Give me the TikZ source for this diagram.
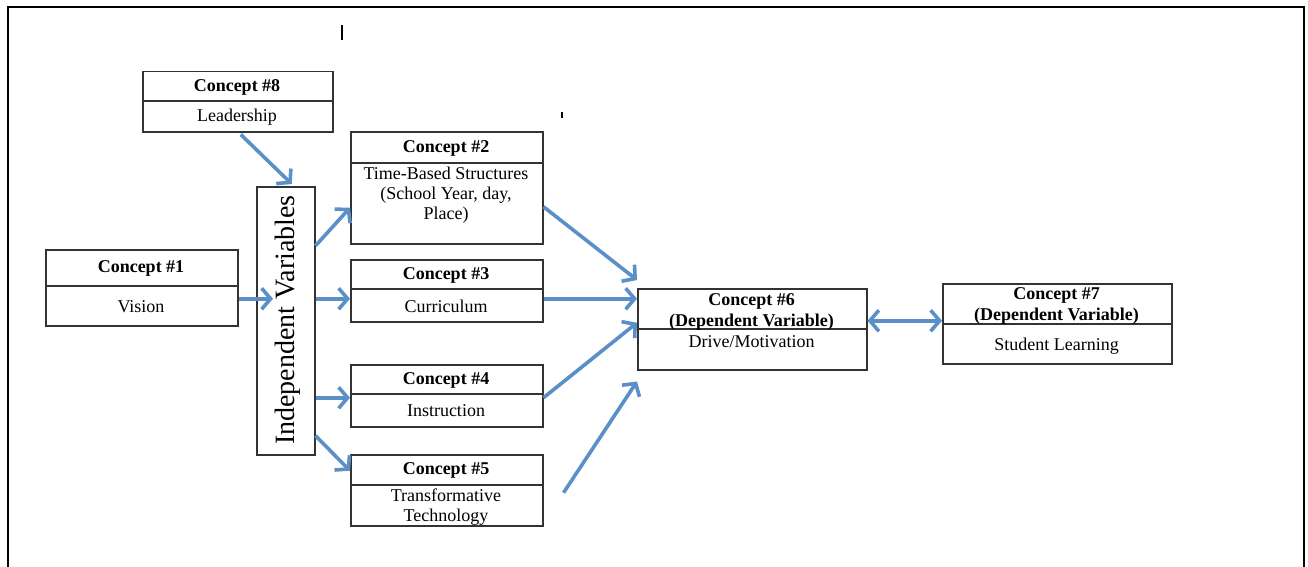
\documentclass[tikz,border=0pt]{standalone}
\usepackage{fontspec}
\setmainfont{Liberation Serif}
\usetikzlibrary{arrows.meta}
\definecolor{arrblue}{HTML}{5A8FC8}
\definecolor{boxline}{HTML}{333333}
\tikzset{
  box/.style={draw=boxline, line width=1.5pt, inner sep=0pt, anchor=north west},
  divider/.style={draw=boxline, line width=1.3pt},
  ttl/.style={font=\fontsize{18}{21}\selectfont\bfseries, align=center, inner sep=0pt},
  bdy/.style={font=\fontsize{18}{20}\selectfont, align=center, inner sep=0pt},
  arr/.style={draw=arrblue, line width=3.6pt, -{Straight Barb[length=9pt,width=21pt]}},
  darr/.style={draw=arrblue, line width=3.6pt, {Straight Barb[length=9pt,width=21pt]}-{Straight Barb[length=9pt,width=21pt]}},
  mark1/.style={draw=black, line width=1.3pt}
}
\begin{document}
\begin{tikzpicture}[x=1pt,y=-1pt]
\useasboundingbox (0,0) rectangle (1308,567);
% outer frame
\draw[line width=2pt] (8,567) -- (8,7) -- (1304,7) -- (1304,567);
% stray marks
\draw[mark1] (342,25) -- (342,40);
\draw[mark1] (562,112) -- (562,118);

% Concept 8
\node[box, minimum width=190pt, minimum height=60pt] (c8) at (142,71) {};
\draw[divider] (c8.west |- 0,101) -- (c8.east |- 0,101);
\node[ttl] (c8t) at (237,87) {Concept \#8};
\node[bdy] (c8b) at (237,117) {Leadership};

% Independent variables
\node[box, minimum width=58pt, minimum height=268pt] (iv) at (256,186) {};
\node[rotate=90, font=\fontsize{28}{32}\selectfont, inner sep=0pt] (ivt) at (288,320) {Independent Variables};

% Concept 1
\node[box, minimum width=192pt, minimum height=76pt] (c1) at (45,249) {};
\draw[divider] (c1.west |- 0,286) -- (c1.east |- 0,286);
\node[ttl] (c1t) at (141,268) {Concept \#1};
\node[bdy] (c1b) at (141,307) {Vision};

% Concept 2
\node[box, minimum width=192pt, minimum height=112pt] (c2) at (350,131) {};
\draw[divider] (c2.west |- 0,163) -- (c2.east |- 0,163);
\node[ttl] (c2t) at (446,148) {Concept \#2};
\node[bdy, anchor=north] (c2b) at (446,167) {Time-Based Structures\\(School Year, day,\\Place)};

% Concept 3
\node[box, minimum width=192pt, minimum height=62pt] (c3) at (350,259) {};
\draw[divider] (c3.west |- 0,289) -- (c3.east |- 0,289);
\node[ttl] (c3t) at (446,275) {Concept \#3};
\node[bdy] (c3b) at (446,306) {Curriculum};

% Concept 4
\node[box, minimum width=192pt, minimum height=62pt] (c4) at (350,364) {};
\draw[divider] (c4.west |- 0,394) -- (c4.east |- 0,394);
\node[ttl] (c4t) at (446,380) {Concept \#4};
\node[bdy] (c4b) at (446,411) {Instruction};

% Concept 5
\node[box, minimum width=192pt, minimum height=71pt] (c5) at (350,454) {};
\draw[divider] (c5.west |- 0,485) -- (c5.east |- 0,485);
\node[ttl] (c5t) at (446,470) {Concept \#5};
\node[bdy, anchor=north] (c5b) at (446,489) {Transformative\\Technology};

% Concept 6
\node[box, minimum width=229pt, minimum height=81pt] (c6) at (637,288) {};
\draw[divider] (c6.west |- 0,329) -- (c6.east |- 0,329);
\node[ttl, anchor=north] (c6t) at (751.5,293) {Concept \#6\\(Dependent Variable)};
\node[bdy] (c6b) at (751.5,342) {Drive/Motivation};

% Concept 7
\node[box, minimum width=229pt, minimum height=80pt] (c7) at (942,283) {};
\draw[divider] (c7.west |- 0,324) -- (c7.east |- 0,324);
\node[ttl, anchor=north] (c7t) at (1056.5,287) {Concept \#7\\(Dependent Variable)};
\node[bdy] (c7b) at (1056.5,346) {Student Learning};

% free start of the last arrow
\coordinate (f5) at ([xshift=20pt,yshift=-2.5pt]c5.east);

% arrows
\draw[arr] ([xshift=3pt,yshift=-2pt]c8.south) -- ([xshift=6pt,yshift=2pt]iv.north);
\draw[arr] ([yshift=-11pt]c1.east) -- ([xshift=17pt,yshift=22pt]iv.west);
\draw[arr] ([yshift=75pt]iv.east) -- ([yshift=-20pt]c2.west);
\draw[arr] ([yshift=22pt]iv.east) -- ([yshift=-8pt]c3.west);
\draw[arr] ([yshift=-77pt]iv.east) -- ([yshift=-2pt]c4.west);
\draw[arr] ([yshift=-115pt]iv.east) -- ([yshift=19.5pt]c5.west);
\draw[arr] ([yshift=-19pt]c2.east) -- ([yshift=8pt]c6.north west);
\draw[arr] ([yshift=-8pt]c3.east) -- ([yshift=30.5pt]c6.west);
\draw[arr] ([yshift=-2pt]c4.east) -- ([yshift=6.5pt]c6.west);
\draw[arr] (f5) -- ([yshift=-11pt]c6.south west);
\draw[darr] ([yshift=8.5pt]c6.east) -- ([yshift=3pt]c7.west);
\end{tikzpicture}
\end{document}
